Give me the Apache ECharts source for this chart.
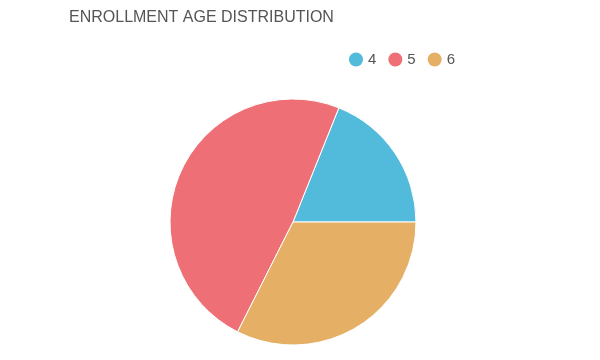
<!DOCTYPE html>
<html><head><meta charset="utf-8">
<script src="https://cdn.jsdelivr.net/npm/echarts@6/dist/echarts.min.js"></script>
<style>html,body{margin:0;padding:0;background:#fff}#c{width:600px;height:360px}</style>
</head><body><div id="c"></div>
<script>
const categories = ['4', '5', '6'];
const values = [7, 18, 12];
const colors = ['#52BADB', '#EE7076', '#E5B065'];
const titleText = 'ENROLLMENT AGE DISTRIBUTION';

const chart = echarts.init(document.getElementById('c'));
chart.setOption({
  animation: false,
  title: {
    text: titleText, left: 64, top: 5,
    textStyle: { fontFamily: 'Liberation Sans', fontSize: 16, fontWeight: 'normal', color: '#555' }
  },
  color: colors,
  legend: {
    data: categories, left: 349, top: 52, itemWidth: 14, itemHeight: 14, itemGap: 12, icon: 'circle',
    padding: 0,
    itemStyle: { borderWidth: 0 },
    textStyle: { fontFamily: 'Liberation Sans', fontSize: 15, color: '#555' }
  },
  series: [{
    type: 'pie', center: [293, 222], radius: 123, startAngle: 0, clockwise: false,
    label: { show: false }, labelLine: { show: false },
    itemStyle: { borderColor: '#fff', borderWidth: 1 },
    data: categories.map((c, i) => ({ name: c, value: values[i] }))
  }]
});
</script></body></html>
